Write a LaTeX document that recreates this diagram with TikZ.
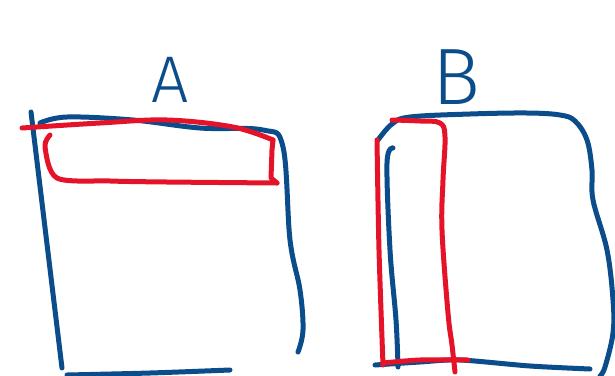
\documentclass[tikz,border=0pt]{standalone}
\usepackage{fontspec}
\setmainfont{Fira Sans}
\newfontfamily\sketchfont{Fira Sans Light}
\definecolor{inkblue}{HTML}{0B4C8A}
\definecolor{inkred}{HTML}{E5132A}
\tikzset{
  pen/.style={line width=5pt, line cap=round, line join=round},
  bluepen/.style={pen, draw=inkblue},
  redpen/.style={pen, draw=inkred},
  letter/.style={text=inkblue, inner sep=0pt}
}
\begin{document}
\begin{tikzpicture}[x=1pt,y=-1pt]
\useasboundingbox (0,0) rectangle (615,375);
\clip (0,0) rectangle (615,375);
% letters
\node[letter, font=\sketchfont\fontsize{66}{66}\selectfont] (la) at (170,80) {A};
\node[letter, font=\sketchfont\fontsize{80}{80}\selectfont] (lb) at (456,77) {B};
% ---- box A (blue)
\draw[bluepen] (31,112) -- (62,368);
\draw[bluepen] plot[smooth, tension=0.6] coordinates {(40,123) (67,117) (133,120) (200,128) (263,130) (283,147) (290,240) (300,290) (303,330) (298,352)};
\draw[bluepen] plot[smooth] coordinates {(67,375) (150,373) (230,370)};
% ---- box A (red)
\draw[redpen] plot[smooth, tension=0.6] coordinates {(22,128) (100,123) (167,120) (233,127) (273,140)};
\draw[redpen] plot[smooth, tension=0.5] coordinates {(50,135) (45,147) (57,178) (110,181) (167,182) (277,183)};
\draw[redpen] (273,140) -- (272,150) -- (271,178) -- (277,183);
% ---- box B (blue)
\draw[bluepen] plot[smooth, tension=0.6] coordinates {(378,140) (392,124) (410,117) (470,114) (527,113) (560,115) (575,121) (587,140) (592,170) (593,200) (607,250) (613,300) (613,333) (605,367) (600,376)};
\draw[bluepen] plot[smooth] coordinates {(375,365) (420,362) (460,360) (530,366) (590,369)};
\draw[bluepen] plot[smooth, tension=0.6] coordinates {(393,148) (387,163) (390,250) (396,320) (398,367)};
% ---- box B (red)
\draw[redpen] plot[smooth] coordinates {(377,140) (379,250) (383,365)};
\draw[redpen] plot[smooth, tension=0.6] coordinates {(392,120) (420,121) (440,123) (445,137) (443,180) (442,230) (448,313) (452,345) (455,372)};
\draw[redpen] plot[smooth] coordinates {(383,363) (420,360) (468,360)};
\end{tikzpicture}
\end{document}
